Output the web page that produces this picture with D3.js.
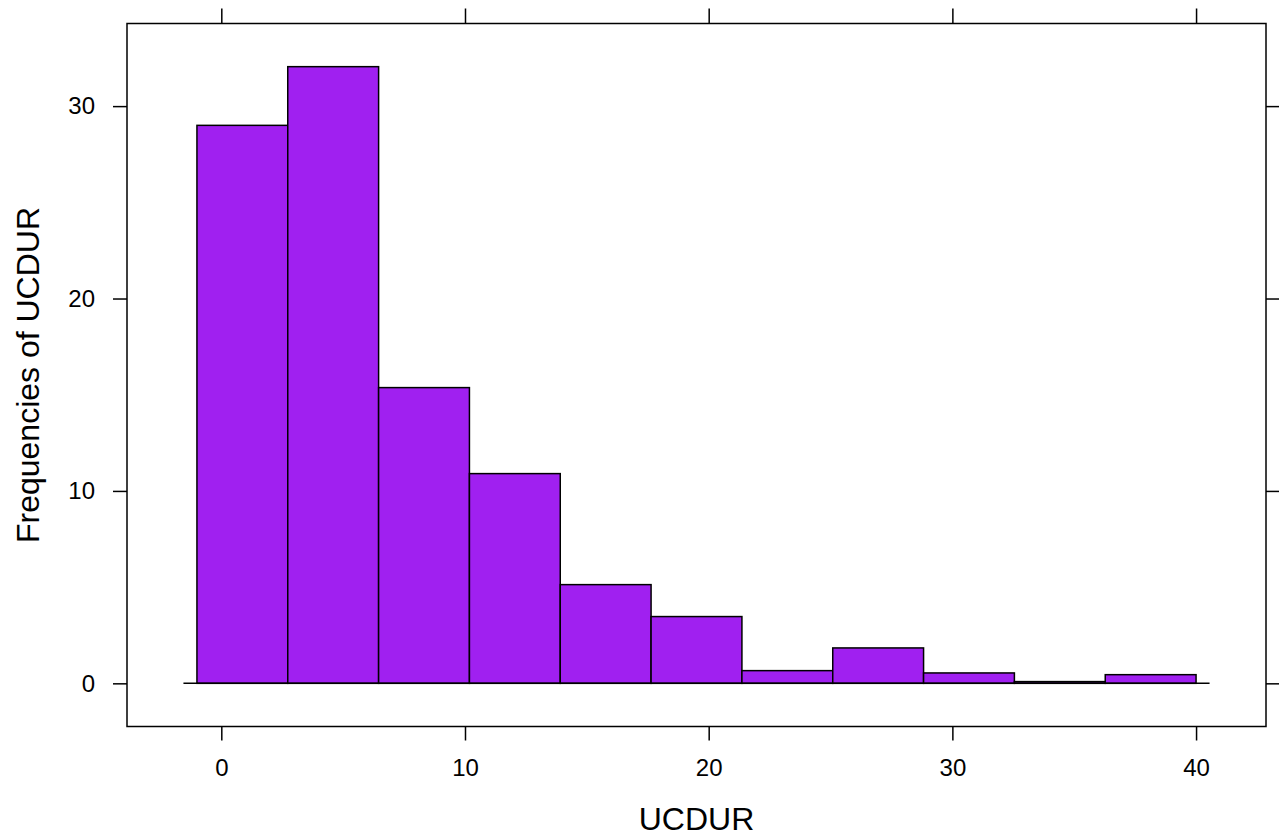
<!DOCTYPE html>
<html>
<head>
<meta charset="utf-8">
<script src="https://cdn.jsdelivr.net/npm/d3@7"></script>
<style>
  html, body { margin: 0; padding: 0; background: #fff; }
  svg { display: block; }
  text { font-family: "Liberation Sans", Arial, sans-serif; fill: #000; }
</style>
</head>
<body>
<svg id="chart" width="1279" height="839"></svg>
<script>
// Histogram bin edges of UCDUR
const breaks = [-1, 2.727, 6.455, 10.182, 13.909, 17.636, 21.364, 25.091, 28.818, 32.545, 36.273, 40];
// Percent of observations in each bin
const percents = [29.0, 32.05, 15.37, 10.9, 5.13, 3.47, 0.66, 1.84, 0.54, 0.09, 0.45];
const xTicks = [0, 10, 20, 30, 40];
const yTicks = [0, 10, 20, 30];
const xTitle = "UCDUR";
const yTitle = "Frequencies of UCDUR";

const W = 1279, H = 839;
const panel = { left: 127, right: 1266, top: 23.5, bottom: 726.5 };
const barFill = "#A020F0";

const svg = d3.select("#chart");

// lattice-style 7% padding on both axes
const xMin = breaks[0], xMax = breaks[breaks.length - 1];
const xPad = 0.07 * (xMax - xMin);
const yMax = d3.max(percents);
const yPad = 0.07 * yMax;

const x = d3.scaleLinear().domain([xMin - xPad, xMax + xPad]).range([panel.left, panel.right]);
const y = d3.scaleLinear().domain([-yPad, yMax + yPad]).range([panel.bottom, panel.top]);

const bins = percents.map((v, i) => ({ x0: breaks[i], x1: breaks[i + 1], v }));

// bars
svg.append("g")
  .selectAll("rect")
  .data(bins)
  .join("rect")
  .attr("x", d => x(d.x0))
  .attr("width", d => x(d.x1) - x(d.x0))
  .attr("y", d => y(d.v))
  .attr("height", d => y(0) - y(d.v))
  .attr("fill", barFill)
  .attr("stroke", "#000")
  .attr("stroke-width", 1.5);

// zero baseline under the bars
svg.append("line")
  .attr("x1", x(xMin) - 13.5)
  .attr("x2", x(xMax) + 13.5)
  .attr("y1", y(0))
  .attr("y2", y(0))
  .attr("stroke", "#000")
  .attr("stroke-width", 1.5);

// panel frame
svg.append("rect")
  .attr("x", panel.left)
  .attr("y", panel.top)
  .attr("width", panel.right - panel.left)
  .attr("height", panel.bottom - panel.top)
  .attr("fill", "none")
  .attr("stroke", "#000")
  .attr("stroke-width", 1.5);

function styleAxis(g) {
  g.select(".domain").remove();
  g.selectAll(".tick line").attr("stroke", "#000").attr("stroke-width", 1.5);
  g.selectAll(".tick text")
    .style("font-family", '"Liberation Sans", Arial, sans-serif')
    .style("font-size", "24px")
    .attr("fill", "#000");
}

svg.append("g")
  .attr("transform", `translate(0,${panel.bottom})`)
  .call(d3.axisBottom(x).tickValues(xTicks).tickSize(14).tickPadding(18).tickFormat(d3.format("d")))
  .call(styleAxis);

svg.append("g")
  .attr("transform", `translate(0,${panel.top})`)
  .call(d3.axisTop(x).tickValues(xTicks).tickSize(15).tickFormat(""))
  .call(styleAxis);

svg.append("g")
  .attr("transform", `translate(${panel.left},0)`)
  .call(d3.axisLeft(y).tickValues(yTicks).tickSize(14).tickPadding(18).tickFormat(d3.format("d")))
  .call(styleAxis);

svg.append("g")
  .attr("transform", `translate(${panel.right},0)`)
  .call(d3.axisRight(y).tickValues(yTicks).tickSize(14).tickFormat(""))
  .call(styleAxis);

// axis titles
svg.append("text")
  .attr("x", (panel.left + panel.right) / 2)
  .attr("y", 830)
  .attr("text-anchor", "middle")
  .style("font-size", "32px")
  .text(xTitle);

svg.append("text")
  .attr("transform", `translate(39,${(panel.top + panel.bottom) / 2}) rotate(-90)`)
  .attr("text-anchor", "middle")
  .style("font-size", "32px")
  .text(yTitle);
</script>
</body>
</html>
